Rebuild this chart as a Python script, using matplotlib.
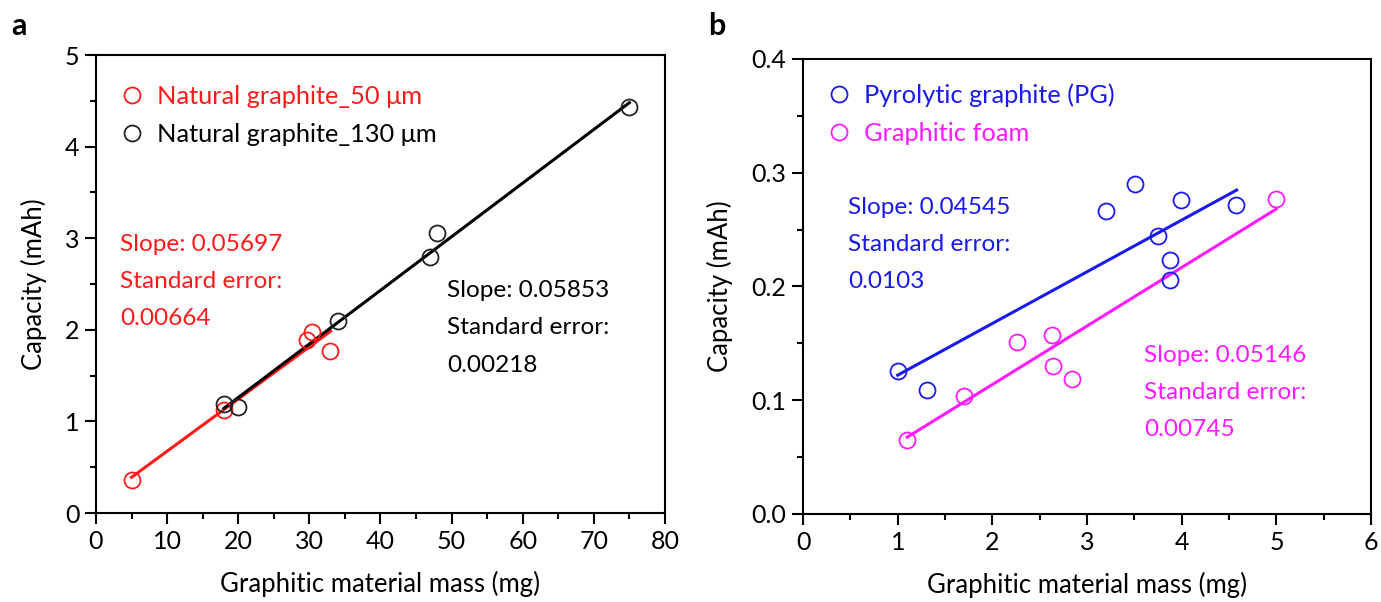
import matplotlib
matplotlib.use("Agg")
import matplotlib.pyplot as plt
from matplotlib.ticker import MultipleLocator, FormatStrFormatter
import numpy as np

# panel a: natural graphite, two flake sizes
ng50_mass = [5, 18, 29.7, 30.4, 32.9]
ng50_cap = [0.36, 1.13, 1.89, 1.98, 1.77]
ng130_mass = [18, 20, 34, 47, 48, 75]
ng130_cap = [1.19, 1.16, 2.10, 2.80, 3.06, 4.43]

# panel b: pyrolytic graphite and graphitic foam
pg_mass = [1.00, 1.31, 3.20, 3.51, 3.75, 3.88, 3.88, 3.99, 4.57]
pg_cap = [0.126, 0.109, 0.266, 0.290, 0.244, 0.223, 0.206, 0.276, 0.272]
foam_mass = [1.10, 1.70, 2.26, 2.63, 2.64, 2.84, 5.00]
foam_cap = [0.065, 0.104, 0.151, 0.157, 0.130, 0.119, 0.277]

# linear fits: (slope, intercept, x range)
fit_ng50 = (0.05697, 0.105, (5, 33))
fit_ng130 = (0.05853, 0.090, (18, 75))
fit_pg = (0.04545, 0.0766, (1.0, 4.58))
fit_foam = (0.05146, 0.0109, (1.1, 5.0))

err_ng50 = "0.00664"
err_ng130 = "0.00218"
err_pg = "0.0103"
err_foam = "0.00745"

RED = "#ff1a1a"
BLUE = "#1a1aee"
MAG = "#ff1aff"

FS_TICK = 18
FS_LABEL = 18.5
FS_LEG = 18.3
FS_NOTE = 17.6
LSP = 1.95

plt.rcParams['font.family'] = ['Lato', 'DejaVu Sans']

fig = plt.figure(figsize=(13.81, 6.02), dpi=100)
ax1 = fig.add_axes([0.0695, 0.1478, 0.412, 0.7608])
ax2 = fig.add_axes([0.5815, 0.1462, 0.4113, 0.7558])


def style_axes(ax):
    for s in ax.spines.values():
        s.set_linewidth(1.5)
    ax.tick_params(which='major', direction='out', length=8, width=1.5,
                   labelsize=FS_TICK, pad=4)
    ax.tick_params(which='minor', direction='out', length=4, width=1.5)
    ax.set_xlabel("Graphitic material mass (mg)", fontsize=FS_LABEL, labelpad=13)
    ax.set_ylabel("Capacity (mAh)", fontsize=FS_LABEL, labelpad=13)


def fit_line(ax, fit, color):
    slope, icpt, (x0, x1) = fit
    xs = np.array([x0, x1])
    ax.plot(xs, slope * xs + icpt, color=color, lw=2.2, zorder=2)


def scatter(ax, x, y, color, label):
    ax.plot(x, y, 'o', ms=11.5, mfc='none', mec=color, mew=1.3,
            label=label, zorder=3)


def note(ax, x, y, fit, err, color):
    ax.text(x, y, "Slope: %.5f\nStandard error:\n%s" % (fit[0], err),
            color=color, fontsize=FS_NOTE, va='center', ha='left',
            linespacing=LSP)


def legend(ax, colors, top):
    leg = ax.legend(loc='upper left', bbox_to_anchor=(-0.006, top),
                    frameon=False, fontsize=FS_LEG, handletextpad=0.25,
                    labelspacing=0.6, handlelength=1.5, borderaxespad=0.4)
    for t, c in zip(leg.get_texts(), colors):
        t.set_color(c)


# ---- panel a
scatter(ax1, ng50_mass, ng50_cap, RED, "Natural graphite_50 \u03bcm")
scatter(ax1, ng130_mass, ng130_cap, "#222222", "Natural graphite_130 \u03bcm")
fit_line(ax1, fit_ng50, RED)
fit_line(ax1, fit_ng130, "black")
ax1.set_xlim(0, 80)
ax1.set_ylim(0, 5)
ax1.xaxis.set_major_locator(MultipleLocator(10))
ax1.xaxis.set_minor_locator(MultipleLocator(5))
ax1.yaxis.set_major_locator(MultipleLocator(1))
ax1.yaxis.set_minor_locator(MultipleLocator(0.5))
style_axes(ax1)
legend(ax1, [RED, "black"], 0.98)
note(ax1, 3.4, 2.53, fit_ng50, err_ng50, RED)
note(ax1, 49.4, 2.02, fit_ng130, err_ng130, "black")
fig.text(0.008, 0.942, "a", fontsize=22, fontweight='bold')

# ---- panel b
scatter(ax2, pg_mass, pg_cap, BLUE, "Pyrolytic graphite (PG)")
scatter(ax2, foam_mass, foam_cap, MAG, "Graphitic foam")
fit_line(ax2, fit_pg, BLUE)
fit_line(ax2, fit_foam, MAG)
ax2.set_xlim(0, 6)
ax2.set_ylim(0, 0.4)
ax2.xaxis.set_major_locator(MultipleLocator(1))
ax2.xaxis.set_minor_locator(MultipleLocator(0.5))
ax2.yaxis.set_major_locator(MultipleLocator(0.1))
ax2.yaxis.set_minor_locator(MultipleLocator(0.05))
ax2.yaxis.set_major_formatter(FormatStrFormatter('%.1f'))
style_axes(ax2)
legend(ax2, [BLUE, MAG], 0.992)
note(ax2, 0.48, 0.237, fit_pg, err_pg, BLUE)
note(ax2, 3.6, 0.107, fit_foam, err_foam, MAG)
fig.text(0.513, 0.942, "b", fontsize=22, fontweight='bold')

fig.savefig("out.png", dpi=100)
